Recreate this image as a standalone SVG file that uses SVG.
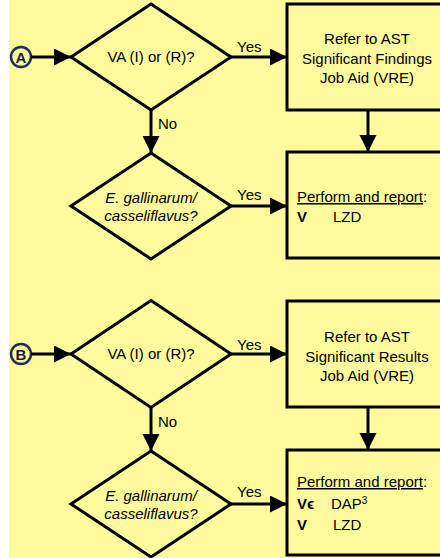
<svg xmlns="http://www.w3.org/2000/svg" width="440" height="558" viewBox="0 0 440 558">
<defs>
<marker id="ah" markerUnits="userSpaceOnUse" markerWidth="18" markerHeight="18" refX="17" refY="8.5" orient="auto">
<path d="M0,0 L17,8.5 L0,17 Z" fill="#000"/>
</marker>
<style>
.shape{fill:#FFFA9C;stroke:#000;stroke-width:3;stroke-linejoin:miter}
.conn line{stroke:#000;stroke-width:3;marker-end:url(#ah)}
.t{font-family:"Liberation Sans",Arial,sans-serif;font-size:15px;fill:#000;text-anchor:middle}
.i{font-style:italic}
.lbl{font-family:"Liberation Sans",Arial,sans-serif;font-size:15px;fill:#000}
.p{font-family:"Liberation Sans",Arial,sans-serif;font-size:15px;fill:#000}
.b{font-weight:bold}
.circ{fill:#FFFA9C;stroke:#1F3060;stroke-width:2.5}
.ct{font-family:"Liberation Sans",Arial,sans-serif;font-size:15px;font-weight:bold;fill:#141B3A;text-anchor:middle}
</style>
</defs>
<rect x="0" y="0" width="440" height="558" fill="#fff"/>
<rect x="9" y="0" width="431" height="558" fill="#FFFA9C"/>

<g id="connA">
<circle class="circ" cx="21" cy="57" r="10"/>
<text class="ct" x="21" y="62.5">A</text>
</g>
<g id="d1">
<polygon class="shape" points="151,4 231,57 151,110 71,57"/>
<text class="t" x="151" y="62">VA (I) or (R)?</text>
</g>
<g id="b1">
<rect class="shape" x="287" y="4" width="170" height="106"/>
<text class="t" x="367" y="44">Refer to AST</text>
<text class="t" x="367" y="64">Significant Findings</text>
<text class="t" x="367" y="83">Job Aid (VRE)</text>
</g>
<g id="d2">
<polygon class="shape" points="151,153 231,206 151,259 71,206"/>
<text class="t i" x="151" y="203">E. gallinarum/</text>
<text class="t i" x="151" y="221">casseliflavus?</text>
</g>
<g id="b2">
<rect class="shape" x="287" y="152" width="170" height="106"/>
<text class="p" x="297" y="202"><tspan text-decoration="underline">Perform and report</tspan>:</text>
<text class="p b" x="297" y="222">V</text>
<text class="p" x="333" y="222">LZD</text>
</g>

<g id="connB">
<circle class="circ" cx="21" cy="354" r="10"/>
<text class="ct" x="21" y="359.5">B</text>
</g>
<g id="d3">
<polygon class="shape" points="151,300.5 231,354 151,407.5 71,354"/>
<text class="t" x="151" y="359">VA (I) or (R)?</text>
</g>
<g id="b3">
<rect class="shape" x="287" y="301" width="170" height="106"/>
<text class="t" x="367" y="342">Refer to AST</text>
<text class="t" x="367" y="362">Significant Results</text>
<text class="t" x="367" y="381">Job Aid (VRE)</text>
</g>
<g id="d4">
<polygon class="shape" points="151,451 231,504 151,557 71,504"/>
<text class="t i" x="151" y="501">E. gallinarum/</text>
<text class="t i" x="151" y="519">casseliflavus?</text>
</g>
<g id="b4">
<rect class="shape" x="287" y="450" width="170" height="105"/>
<text class="p" x="297" y="487"><tspan text-decoration="underline">Perform and report</tspan>:</text>
<text class="p b" x="297" y="509">Vϵ</text>
<text class="p" x="331" y="509">DAP<tspan font-size="10" dy="-5">3</tspan></text>
<text class="p b" x="297" y="530">V</text>
<text class="p" x="333" y="530">LZD</text>
</g>

<g id="connectors" class="conn">
<line x1="31" y1="57" x2="71" y2="57"/>
<line x1="231" y1="57" x2="287" y2="57"/>
<line x1="368" y1="110" x2="368" y2="152"/>
<line x1="151" y1="110" x2="151" y2="153"/>
<line x1="231" y1="206" x2="287" y2="206"/>
<line x1="31" y1="354" x2="71" y2="354"/>
<line x1="231" y1="354" x2="287" y2="354"/>
<line x1="368" y1="407" x2="368" y2="450"/>
<line x1="151" y1="407.5" x2="151" y2="451"/>
<line x1="231" y1="504" x2="287" y2="504"/>
</g>
<g id="labels">
<text class="lbl" x="237" y="52">Yes</text>
<text class="lbl" x="158" y="129">No</text>
<text class="lbl" x="237" y="200">Yes</text>
<text class="lbl" x="237" y="350">Yes</text>
<text class="lbl" x="158" y="427">No</text>
<text class="lbl" x="237" y="497">Yes</text>
</g>
</svg>
